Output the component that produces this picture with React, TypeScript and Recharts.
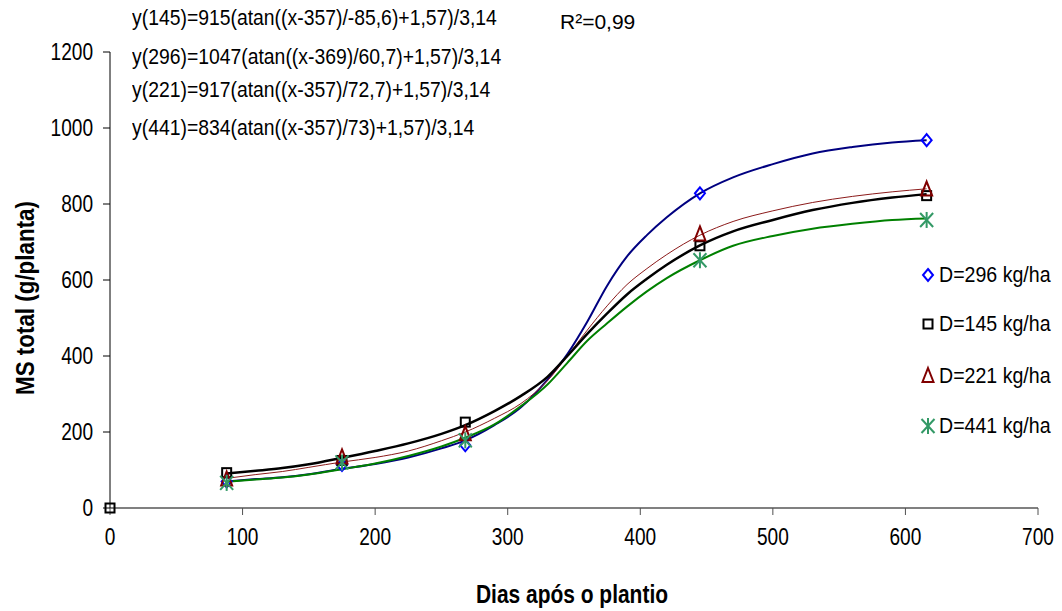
import React from 'react';
import { ComposedChart, Line, Scatter, XAxis, YAxis } from 'recharts';

// observed days after planting
const obsDays = [88, 175, 268, 445, 616];
const obs296 = [70, 113, 165, 828, 968];
const obs145 = [93, 125, 226, 690, 822];
const obs221 = [75, 133, 194, 720, 838];
const obs441 = [66, 120, 178, 652, 758];

// fitted curves
const fitDays = [88, 110, 130, 150, 175, 200, 225, 250, 268, 290, 310, 330, 345, 360, 375, 390, 405, 420, 445, 470, 500, 530, 560, 590, 616];
const fit296 = [70, 76, 81, 89, 103, 116, 133, 157, 178, 218, 265, 338, 405, 490, 585, 662, 718, 765, 828, 870, 905, 933, 950, 962, 968];
const fit145 = [91, 98, 105, 115, 132, 150, 170, 195, 218, 255, 295, 345, 400, 458, 512, 562, 603, 640, 691, 728, 758, 784, 803, 817, 826];
const fit221 = [78, 88, 96, 107, 121, 133, 150, 177, 200, 236, 275, 335, 400, 468, 532, 588, 630, 667, 718, 754, 782, 804, 820, 832, 840];
const fit441 = [69, 75, 80, 88, 102, 117, 137, 162, 185, 220, 268, 325, 382, 440, 486, 530, 570, 605, 652, 690, 716, 735, 748, 758, 762];

const xTicks = [0, 100, 200, 300, 400, 500, 600, 700];
const yTicks = [0, 200, 400, 600, 800, 1000, 1200];

const equations = [
  'y(145)=915(atan((x-357)/-85,6)+1,57)/3,14',
  'y(296)=1047(atan((x-369)/60,7)+1,57)/3,14',
  'y(221)=917(atan((x-357)/72,7)+1,57)/3,14',
  'y(441)=834(atan((x-357)/73)+1,57)/3,14',
];
const eqMid = [18, 57, 90, 128];

const FONT = 'Arial, "Liberation Sans", sans-serif';

const pts = (xs: number[], ys: number[]) => xs.map((x, i) => ({ x, y: ys[i] }));

type Kind = 'diamond' | 'square' | 'triangle' | 'star';

function Marker({ kind, cx, cy }: { kind: Kind; cx: number; cy: number }) {
  if (kind === 'diamond')
    return <polygon points={`${cx},${cy - 6} ${cx + 5},${cy} ${cx},${cy + 6} ${cx - 5},${cy}`} fill="none" stroke="#0000FF" strokeWidth={2} />;
  if (kind === 'square')
    return <rect x={cx - 4.5} y={cy - 4.5} width={9} height={9} fill="none" stroke="#000" strokeWidth={2} />;
  if (kind === 'triangle')
    return <polygon points={`${cx},${cy - 8} ${cx + 5.5},${cy + 6} ${cx - 5.5},${cy + 6}`} fill="none" stroke="#800000" strokeWidth={2} />;
  return (
    <g stroke="#339966" strokeWidth={2}>
      <line x1={cx - 6.5} y1={cy - 7} x2={cx + 6.5} y2={cy + 7} />
      <line x1={cx - 6.5} y1={cy + 7} x2={cx + 6.5} y2={cy - 7} />
      <line x1={cx} y1={cy - 8} x2={cx} y2={cy + 8} />
    </g>
  );
}

const shapeOf = (kind: Kind) => (p: any) => <Marker kind={kind} cx={p.cx} cy={p.cy} />;

const legend: { kind: Kind; text: string; y: number }[] = [
  { kind: 'diamond', text: 'D=296 kg/ha', y: 275 },
  { kind: 'square', text: 'D=145 kg/ha', y: 324 },
  { kind: 'triangle', text: 'D=221 kg/ha', y: 376 },
  { kind: 'star', text: 'D=441 kg/ha', y: 426 },
];

// narrow-looking tick text (squeezed horizontally around its anchor)
function Tick(props: any) {
  const { x, y, payload, textAnchor, axis } = props;
  const dy = axis === 'x' ? '0.71em' : '0.35em';
  return (
    <text x={x} y={y} dy={dy} textAnchor={textAnchor} fontFamily={FONT} fontSize={23} fill="#000"
      transform={`translate(${x} 0) scale(0.83 1) translate(${-x} 0)`}>
      {payload.value}
    </text>
  );
}

export default function App() {
  return (
    <div style={{ position: 'absolute', left: 0, top: 0, width: 1062, height: 611, background: '#fff' }}>
      <ComposedChart width={1062} height={611} margin={{ top: 52, right: 24, left: 0, bottom: 0 }}>
        <XAxis type="number" dataKey="x" domain={[0, 700]} ticks={xTicks} interval={0}
          axisLine={{ stroke: '#808080', strokeWidth: 2 }} tickLine={{ stroke: '#505050' }}
          tickSize={7} tickMargin={14} tick={<Tick axis="x" />} height={103} />
        <YAxis type="number" domain={[0, 1200]} ticks={yTicks} interval={0}
          axisLine={{ stroke: '#000' }} tickLine={{ stroke: '#000' }}
          tickSize={7} tickMargin={10} tick={<Tick axis="y" />} width={110} />
        <Line data={pts(fitDays, fit296)} dataKey="y" type="monotone" stroke="#000080" strokeWidth={2} dot={false} isAnimationActive={false} />
        <Line data={pts(fitDays, fit221)} dataKey="y" type="monotone" stroke="#8B1A1A" strokeWidth={1} dot={false} isAnimationActive={false} />
        <Line data={pts(fitDays, fit145)} dataKey="y" type="monotone" stroke="#000" strokeWidth={2.5} dot={false} isAnimationActive={false} />
        <Line data={pts(fitDays, fit441)} dataKey="y" type="monotone" stroke="#008000" strokeWidth={2} dot={false} isAnimationActive={false} />
        <Scatter data={pts(obsDays, obs296)} dataKey="y" shape={shapeOf('diamond')} isAnimationActive={false} />
        <Scatter data={[{ x: 0, y: 0 }, ...pts(obsDays, obs145)]} dataKey="y" shape={shapeOf('square')} isAnimationActive={false} />
        <Scatter data={pts(obsDays, obs221)} dataKey="y" shape={shapeOf('triangle')} isAnimationActive={false} />
        <Scatter data={pts(obsDays, obs441)} dataKey="y" shape={shapeOf('star')} isAnimationActive={false} />
      </ComposedChart>

      <svg width={1062} height={611} style={{ position: 'absolute', left: 0, top: 0, pointerEvents: 'none' }}>
        <text x={572} y={603} textAnchor="middle" fontFamily={FONT} fontWeight="bold" fontSize={25}
          textLength={192} lengthAdjust="spacingAndGlyphs">Dias após o plantio</text>
        <text x={34} y={298} transform="rotate(-90 34 298)" textAnchor="middle" fontFamily={FONT}
          fontWeight="bold" fontSize={25} textLength={194} lengthAdjust="spacingAndGlyphs">MS total (g/planta)</text>
      </svg>

      {equations.map((eq, i) => (
        <div key={eq} style={{ position: 'absolute', left: 132, top: eqMid[i] - 12, fontFamily: FONT, fontSize: 22, lineHeight: '24px',
          whiteSpace: 'nowrap', transform: 'scaleX(0.88)', transformOrigin: 'left center' }}>
          {eq}
        </div>
      ))}
      <div style={{ position: 'absolute', left: 560, top: 10, fontFamily: FONT, fontSize: 21, lineHeight: '24px' }}>R²=0,99</div>

      {legend.map((l) => (
        <div key={l.text} style={{ position: 'absolute', left: 918, top: l.y - 13, height: 26, display: 'flex', alignItems: 'center' }}>
          <svg width={20} height={26} style={{ display: 'block' }}>
            <Marker kind={l.kind} cx={10} cy={13} />
          </svg>
          <span style={{ fontFamily: FONT, fontSize: 22, marginLeft: 1, whiteSpace: 'nowrap', display: 'inline-block',
            transform: 'scaleX(0.89)', transformOrigin: 'left center' }}>{l.text}</span>
        </div>
      ))}
    </div>
  );
}
